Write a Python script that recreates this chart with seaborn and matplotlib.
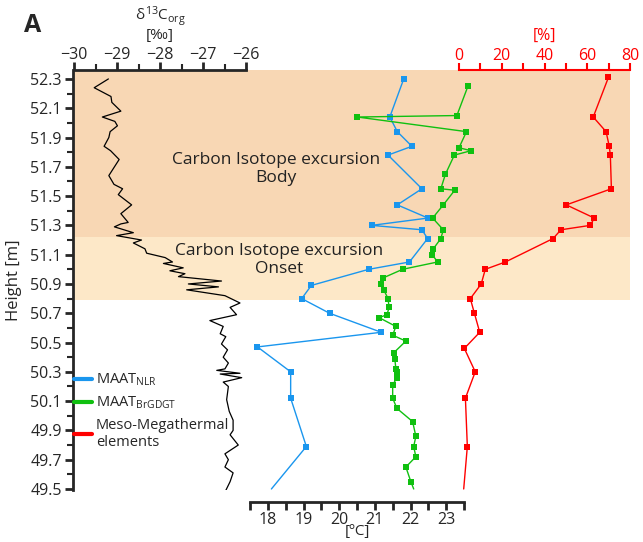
import numpy as np
import pandas as pd
import matplotlib
matplotlib.use('Agg')
import matplotlib.pyplot as plt
from matplotlib.lines import Line2D
from matplotlib.ticker import MultipleLocator
import seaborn as sns

# d13C_org record
d13c = [-29.20, -29.53, -29.14, -29.12, -28.91, -29.34, -29.05, -28.99, -29.16, -29.19,
        -29.30, -29.15, -28.95, -29.19, -29.07, -28.87, -28.97, -28.66, -28.91, -28.74,
        -28.91, -29.06, -28.62, -29.01, -28.43, -28.62, -28.35, -28.31, -27.88, -27.71,
        -27.92, -27.46, -27.77, -27.42, -27.57, -26.57, -27.34, -26.64, -27.38, -26.49,
        -26.14, -26.37, -26.22, -26.84, -26.53, -26.60, -26.47, -26.57, -26.43, -26.53,
        -26.41, -26.49, -26.68, -26.14, -26.60, -26.10, -26.53, -26.41, -26.45, -26.39,
        -26.30, -26.30, -26.37, -26.18, -26.49, -26.41, -26.49, -26.30, -26.37, -26.47]
d13c_h = [52.30, 52.24, 52.18, 52.14, 52.08, 52.04, 52.01, 51.98, 51.94, 51.90,
          51.84, 51.81, 51.75, 51.64, 51.58, 51.55, 51.51, 51.44, 51.38, 51.32,
          51.31, 51.29, 51.25, 51.23, 51.20, 51.18, 51.14, 51.11, 51.08, 51.05,
          51.04, 51.01, 50.99, 50.97, 50.95, 50.92, 50.90, 50.88, 50.86, 50.82,
          50.77, 50.74, 50.69, 50.65, 50.61, 50.56, 50.54, 50.49, 50.45, 50.40,
          50.36, 50.32, 50.31, 50.29, 50.285, 50.26, 50.23, 50.20, 50.11, 50.03,
          49.97, 49.90, 49.87, 49.80, 49.74, 49.70, 49.65, 49.61, 49.55, 49.49]

# MAAT NLR (last value = line end, no marker)
nlr_t = [21.81, 21.42, 21.63, 22.04, 21.37, 22.32, 21.63, 22.49, 20.91, 22.32, 22.48,
         21.97, 20.83, 19.22, 18.95, 19.73, 21.18, 17.71, 18.64, 18.64, 19.08, 18.10]
nlr_h = [52.30, 52.04, 51.94, 51.84, 51.78, 51.55, 51.44, 51.35, 51.30, 51.27, 51.21,
         51.05, 51.00, 50.89, 50.80, 50.70, 50.57, 50.47, 50.30, 50.12, 49.79, 49.50]

# MAAT BrGDGT
gdgt_t = [23.61, 23.30, 20.51, 23.57, 23.36, 23.70, 23.23, 22.98, 22.85, 23.24, 22.92,
          22.62, 22.92, 22.85, 22.64, 22.61, 22.76, 21.78, 21.22, 21.18, 21.25, 21.37,
          21.40, 21.34, 21.12, 21.59, 21.50, 21.87, 21.53, 21.56, 21.59, 21.62, 21.62,
          21.50, 21.50, 21.62, 22.06, 22.15, 22.09, 22.15, 21.87, 22.01, 22.09]
gdgt_h = [52.25, 52.05, 52.04, 51.94, 51.83, 51.81, 51.78, 51.65, 51.55, 51.54, 51.44,
          51.35, 51.27, 51.21, 51.14, 51.10, 51.05, 51.00, 50.94, 50.90, 50.86, 50.80,
          50.74, 50.69, 50.67, 50.61, 50.55, 50.51, 50.43, 50.39, 50.32, 50.30, 50.26,
          50.21, 50.12, 50.05, 49.96, 49.86, 49.79, 49.72, 49.65, 49.55, 49.50]

# Meso-Megathermal elements [%]
meso_p = [69.9, 62.8, 68.8, 70.3, 70.8, 71.3, 50.2, 63.3, 61.4, 47.7, 44.0, 21.7, 12.3,
          10.4, 5.3, 7.2, 9.7, 2.5, 7.6, 3.0, 3.9, 2.2]
meso_h = [52.31, 52.04, 51.94, 51.84, 51.78, 51.55, 51.44, 51.35, 51.30, 51.27, 51.21,
          51.05, 51.00, 50.90, 50.80, 50.70, 50.57, 50.46, 50.30, 50.12, 49.79, 49.50]

zones = ['Body', 'Onset']
zone_top = [52.36, 51.22]
zone_bot = [51.22, 50.79]
zone_col = ['#f8d7b4', '#fde8c8']

blue = '#1a96ee'
green = '#10c010'
red = '#ff0000'

sns.set_style('ticks')
plt.rcParams['font.family'] = ['Open Sans', 'DejaVu Sans']
plt.rcParams['mathtext.fontset'] = 'custom'
plt.rcParams['mathtext.rm'] = 'Open Sans'
plt.rcParams['mathtext.it'] = 'Open Sans'

W, H = 643, 542
fig = plt.figure(figsize=(W / 100, H / 100), dpi=100)

def px_axes(x0, x1, y0=70, y1=490):
    return fig.add_axes([x0 / W, 1 - y1 / H, (x1 - x0) / W, (y1 - y0) / H])

def px_text(x, y, s, **kw):
    fig.text(x / W, 1 - y / H, s, ha='center', va='center', **kw)

ylim = (49.493, 52.361)

# main axes: shading + height axis
ax = px_axes(73, 630)
ax.set_xlim(0, 1)
ax.set_ylim(*ylim)
for top, bot, c in zip(zone_top, zone_bot, zone_col):
    ax.axhspan(bot, top, color=c, lw=0, zorder=0)
for s in ['top', 'right', 'bottom']:
    ax.spines[s].set_visible(False)
ax.spines['left'].set_linewidth(2)
ax.set_xticks([])
ax.yaxis.set_minor_locator(MultipleLocator(0.1))
ax.set_yticks(np.arange(49.5, 52.31, 0.2))
ax.set_yticklabels([f'{v:.1f}' for v in np.arange(49.5, 52.31, 0.2)])
ax.tick_params(axis='y', which='major', length=6, width=2, labelsize=11.5, pad=2)
ax.tick_params(axis='y', which='minor', length=4, width=1.5)
ax.set_ylabel('Height [m]', fontsize=12, labelpad=6)
ax.text(0.3645, 51.685, 'Carbon Isotope excursion\nBody', ha='center', va='center',
        fontsize=12.5, linespacing=1.2, color='#222222')
ax.text(0.37, 51.065, 'Carbon Isotope excursion\nOnset', ha='center', va='center',
        fontsize=12.5, linespacing=1.2, color='#222222')

# d13C axes
axc = px_axes(74, 246)
axc.patch.set_visible(False)
sns.lineplot(x=d13c, y=d13c_h, sort=False, estimator=None, color='black', lw=0.9, ax=axc)
axc.set_xlim(-30, -26)
axc.set_ylim(*ylim)
axc.xaxis.tick_top()
for s in ['left', 'right', 'bottom']:
    axc.spines[s].set_visible(False)
axc.spines['top'].set_linewidth(2)
axc.set_yticks([])
axc.xaxis.set_major_locator(MultipleLocator(1))
axc.xaxis.set_minor_locator(MultipleLocator(0.5))
axc.tick_params(axis='x', which='major', length=6, width=2, labelsize=11.5, pad=-1)
axc.tick_params(axis='x', which='minor', length=4, width=1.5)
px_text(160, 17, r'$\delta^{13}$C$_{\mathregular{org}}$', fontsize=11)
px_text(160, 36, '[‰]', fontsize=11)

# temperature axes
axt = px_axes(250, 464)
axt.patch.set_visible(False)
sns.lineplot(x=nlr_t, y=nlr_h, sort=False, estimator=None, color=blue, lw=1, ax=axt, clip_on=False)
sns.scatterplot(x=nlr_t[:-1], y=nlr_h[:-1], color=blue, marker='s', s=22, lw=0, ax=axt, clip_on=False)
sns.lineplot(x=gdgt_t, y=gdgt_h, sort=False, estimator=None, color=green, lw=1, ax=axt, clip_on=False)
sns.scatterplot(x=gdgt_t[:-1], y=gdgt_h[:-1], color=green, marker='s', s=22, lw=0, ax=axt, clip_on=False)
axt.set_xlim(17.5, 23.5)
axt.set_ylim(*ylim)
for s in ['left', 'right', 'top']:
    axt.spines[s].set_visible(False)
axt.spines['bottom'].set_position(('outward', 8.6))
axt.spines['bottom'].set_linewidth(2)
axt.set_yticks([])
axt.xaxis.set_major_locator(MultipleLocator(1))
axt.xaxis.set_minor_locator(MultipleLocator(0.5))
axt.tick_params(axis='x', which='major', length=6, width=2, labelsize=11.5, pad=1)
axt.tick_params(axis='x', which='minor', length=6, width=2)
px_text(357, 532, '[ºC]', fontsize=11)

# percent axes
axp = px_axes(459, 630)
axp.patch.set_visible(False)
sns.lineplot(x=meso_p, y=meso_h, sort=False, estimator=None, color=red, lw=1, ax=axp)
sns.scatterplot(x=meso_p[:-1], y=meso_h[:-1], color=red, marker='s', s=22, lw=0, ax=axp)
axp.set_xlim(0, 80)
axp.set_ylim(*ylim)
axp.xaxis.tick_top()
for s in ['left', 'right', 'bottom']:
    axp.spines[s].set_visible(False)
axp.spines['top'].set_color(red)
axp.spines['top'].set_linewidth(1.5)
axp.set_yticks([])
axp.xaxis.set_major_locator(MultipleLocator(20))
axp.xaxis.set_minor_locator(MultipleLocator(10))
axp.tick_params(axis='x', which='both', colors=red, length=5, width=1.5, labelsize=11.5, pad=-1)
px_text(545, 36, '[%]', fontsize=11.5, color=red)

handles = [Line2D([], [], color=blue, lw=3),
           Line2D([], [], color=green, lw=3),
           Line2D([], [], color=red, lw=3)]
labels = [r'MAAT$_{\mathregular{NLR}}$', r'MAAT$_{\mathregular{BrGDGT}}$', 'Meso-Megathermal\nelements']
fig.legend(handles, labels, loc='upper left', bbox_to_anchor=(74 / W, 1 - 372 / H),
           frameon=False, fontsize=10.5, handlelength=1.2, handletextpad=0.3,
           labelspacing=0.45, borderpad=0, borderaxespad=0)

fig.text(24 / W, 1 - 25 / H, 'A', fontsize=18, fontweight='bold', va='center', ha='left')

fig.savefig('out.png', dpi=100)
